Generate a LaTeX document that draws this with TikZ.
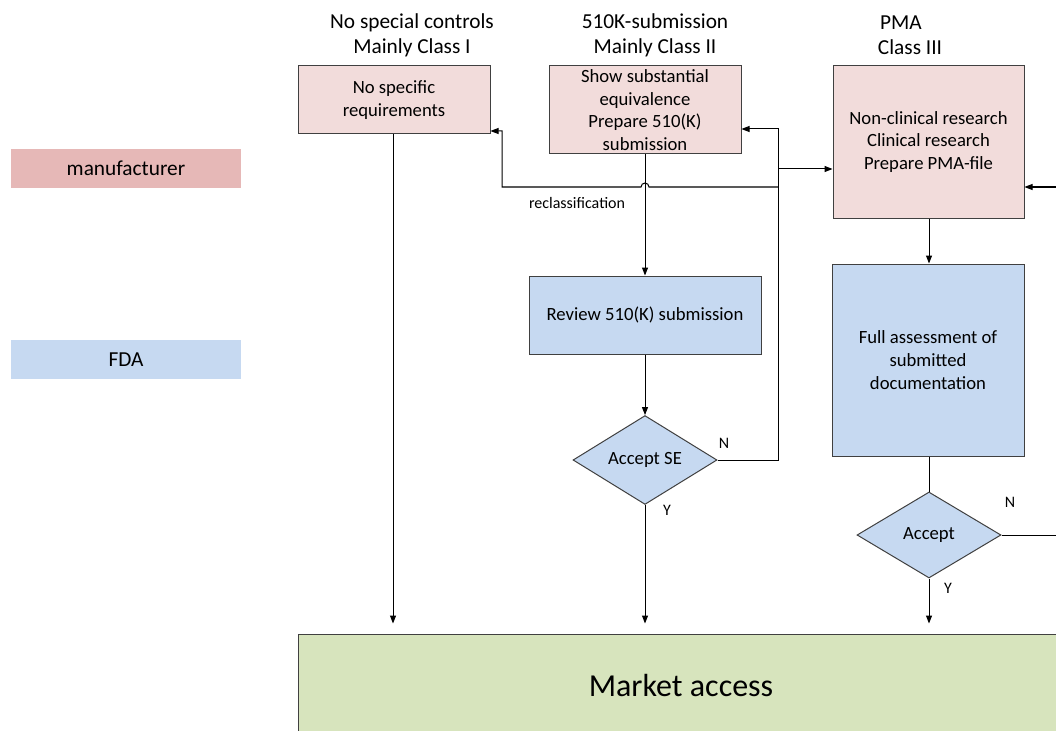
\documentclass[tikz,border=0pt]{standalone}
\usepackage{fontspec}
\setmainfont{Carlito}
\usetikzlibrary{arrows.meta,shapes.geometric,fit,calc}
\definecolor{pinkbox}{HTML}{F2DCDB}
\definecolor{pinkleg}{HTML}{E6B8B7}
\definecolor{bluebox}{HTML}{C6D9F1}
\definecolor{greenbox}{HTML}{D7E4BD}
\definecolor{edge}{HTML}{404040}
\tikzset{
  mbox/.style={draw=edge, line width=0.75pt, fill=pinkbox, inner sep=0pt, align=center, font=\fontsize{14}{17}\selectfont},
  fbox/.style={draw=edge, line width=0.75pt, fill=bluebox, inner sep=0pt, align=center, font=\fontsize{14}{17}\selectfont},
  dbox/.style={diamond, draw=edge, line width=0.75pt, fill=bluebox, inner sep=0pt, minimum width=108pt, minimum height=64.5pt, font=\fontsize{14}{17}\selectfont},
  legbox/.style={inner sep=0pt, font=\fontsize{16}{19}\selectfont},
  head/.style={align=center, font=\fontsize{16}{18.75}\selectfont},
  small/.style={font=\fontsize{12}{14}\selectfont},
  conn/.style={line width=0.75pt, black},
  arr/.style={conn, -{Triangle[length=6pt,width=4.5pt]}},
}
\begin{document}
\begin{tikzpicture}[x=0.75pt,y=-0.75pt]
\useasboundingbox (0,0) rectangle (1056,731);
\clip (0,0) rectangle (1056,731);
\fill[white] (0,0) rectangle (1056,731);
% legend
\node[legbox, fill=pinkleg, fit={(11,149) (241,188)}] (lm) {};
\node[legbox] (lmt) at (lm.center) {manufacturer};
\node[legbox, fill=bluebox, fit={(11,340) (241,379)}] (lf) {};
\node[legbox] (lft) at (lf.center) {FDA};
% headers
\node[head] (h1) at (412,35) {No special controls\\Mainly Class I};
\node[head] (h2) at (655,35) {510K-submission\\Mainly Class II};
\node[head] (h3) at (910,35) {PMA\hspace*{13.5pt}\\Class III};
% boxes
\node[mbox, fit={(298,66) (490,134)}] (b1) {};
\node[align=center, font=\fontsize{14}{17.25}\selectfont] (b1t) at (b1.center) {No specific\\requirements};
\node[mbox, fit={(549,66) (741,154)}] (b2) {};
\node[align=center, font=\fontsize{14}{17}\selectfont] (b2t) at (b2.center) {Show substantial\\equivalence\\Prepare 510(K)\\submission};
\node[mbox, fit={(833,66) (1024,218)}] (b3) {};
\node[align=center, font=\fontsize{14}{17}\selectfont] (b3t) at (b3.center) {Non-clinical research\\Clinical research\\Prepare PMA-file};
\node[fbox, fit={(529,276) (761,354)}] (rv) {};
\node[font=\fontsize{14}{17}\selectfont] (rvt) at (rv.center) {Review 510(K) submission};
\node[fbox, fit={(832,264) (1024,456)}] (fa) {};
\node[align=center, font=\fontsize{14}{17.25}\selectfont] (fat) at (fa.center) {Full assessment of\\submitted\\documentation};
\node[dbox] (d1) at (645,460) {Accept SE};
\node[dbox] (d2) at (929,535) {Accept};
\node[draw=edge, line width=0.75pt, fill=greenbox, inner sep=0pt, fit={(298,634) (1064,738)}] (mk) {};
\node[font=\fontsize{24}{28}\selectfont] (mkt) at (mk.center) {Market access};
% helper coordinates
\coordinate (ya) at (0,129);
\coordinate (yb) at (0,169);
\coordinate (yc) at (0,187);
\coordinate (yd) at (0,131);
\coordinate (xr) at (778,0);
\coordinate (xl) at (502,0);
\coordinate (xo) at (1070,0);
% connectors
\draw[arr, shorten >=7.5pt] (b1.south -| 393,0) -- (mk.north -| 393,0);
\draw[arr] (b2.south -| d1.north) -- (rv.north -| d1.north);
\draw[arr] (rv.south -| d1.north) -- (d1.north);
\draw[arr, shorten >=7.5pt] (d1.south) -- (mk.north -| d1.south);
\draw[arr] (d1.east) -- (d1.east -| xr) -- (xr |- ya) -- (b2.east |- ya);
\draw[arr] (xr |- yb) -- (b3.west |- yb);
\draw[arr] (xr |- yc) -- (649,187) arc[start angle=0,end angle=180,radius=3pt] -- (xl |- yc) -- (xl |- yd) -- (b1.east |- yd);
\draw[arr] (b3.south -| d2.north) -- (fa.north -| d2.north);
\draw[conn] (fa.south -| d2.north) -- (d2.north);
\draw[arr, shorten >=7.5pt] (d2.south) -- (mk.north -| d2.south);
\draw[conn] (d2.east) -- (d2.east -| xo);
\draw[arr] (xo |- yc) -- (b3.east |- yc);
% labels
\node[small] (lr) at (577,203) {reclassification};
\node[small] (ln1) at (724,443) {N};
\node[small] (ly1) at (667,510) {Y};
\node[small] (ln2) at (1010,502) {N};
\node[small] (ly2) at (948,588) {Y};
\end{tikzpicture}
\end{document}
